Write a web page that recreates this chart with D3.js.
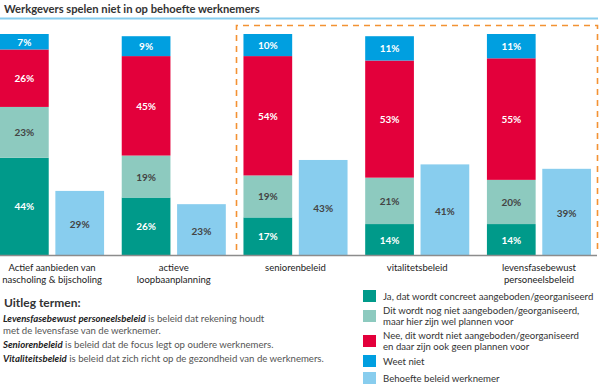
<!DOCTYPE html>
<html>
<head>
<meta charset="UTF-8">
<style>
body { margin: 0; padding: 0; background: #fff; }
svg { display: block; font-family: Lato, "Open Sans", sans-serif; }
</style>
</head>
<body>
<svg id="chart" width="600" height="385"></svg>
<script src="https://d3js.org/d3.v7.min.js"></script>
<script>

const categories = [
  ["Actief aanbieden van", "nascholing & bijscholing"],
  ["actieve", "loopbaanplanning"],
  ["seniorenbeleid"],
  ["vitalitetsbeleid"],
  ["levensfasebewust", "personeelsbeleid"]
];
const ja = [44, 26, 17, 14, 14];
const plannen = [23, 19, 19, 21, 20];
const nee = [26, 45, 54, 53, 55];
const weetNiet = [7, 9, 10, 11, 11];
const behoefte = [29, 23, 43, 41, 39];

const seriesNames = [
  ["Ja, dat wordt concreet aangeboden/georganiseerd"],
  ["Dit wordt nog niet aangeboden/georganiseerd,", "maar hier zijn wel plannen voor"],
  ["Nee, dit wordt niet aangeboden/georganiseerd", "en daar zijn ook geen plannen voor"],
  ["Weet niet"],
  ["Behoefte beleid werknemer"]
];
const colors = ["#009a8a", "#8dcabf", "#e3003b", "#009fe0", "#88cdee"];
const labelColors = ["#fff", "#444", "#fff", "#fff", "#444"];

const title = "Werkgevers spelen niet in op behoefte werknemers";
const uitlegTitle = "Uitleg termen:";
const uitleg = [
  [["Levensfasebewust personeelsbeleid", true], [" is beleid dat rekening houdt", false]],
  [["met de levensfase van de werknemer.", false]],
  [["Seniorenbeleid", true], [" is beleid dat de focus legt op oudere werknemers.", false]],
  [["Vitaliteitsbeleid", true], [" is beleid dat zich richt op de gezondheid van de werknemers.", false]]
];

const svg = d3.select("#chart");

// title + blue rule
svg.append("text")
  .attr("x", 4).attr("y", 13)
  .attr("font-size", "11.2px").attr("font-weight", "bold")
  .attr("fill", "#333")
  .text(title);
svg.append("line")
  .attr("x1", 0).attr("x2", 598).attr("y1", 18.5).attr("y2", 18.5)
  .attr("stroke", "#88cdee").attr("stroke-width", 2);

const baseY = 255, topY = 34;
const y = d3.scaleLinear().domain([0, 100]).range([baseY, topY]);
const x = d3.scaleBand().domain(d3.range(categories.length)).range([0, 591]).paddingInner(0.145);
const xi = d3.scaleBand().domain(["stack", "behoefte"]).range([0, x.bandwidth()]).paddingInner(0.12);

// stacked data
const rows = categories.map((c, i) => ({ i, ja: ja[i], plannen: plannen[i], nee: nee[i], weetNiet: weetNiet[i] }));
const keys = ["ja", "plannen", "nee", "weetNiet"];
const stacked = d3.stack().keys(keys)(rows);

const segs = [];
stacked.forEach((layer, k) => {
  layer.forEach(d => {
    segs.push({ k, i: d.data.i, y0: d[0], y1: d[1], v: d[1] - d[0] });
  });
});

// dashed box round the last three groups
const bx0 = 236.5, bx1 = 597.5, by0 = 25.5, by1 = 250;
svg.append("path")
  .attr("d", `M${bx0},${by1} L${bx0},${by0} L${bx1},${by0} L${bx1},${by1}`)
  .attr("fill", "none").attr("stroke", "#f39233").attr("stroke-width", 1.6)
  .attr("stroke-dasharray", "6,5");

const g = svg.append("g");
g.selectAll("rect.seg").data(segs).enter().append("rect")
  .attr("class", "seg")
  .attr("x", d => x(d.i) + xi("stack"))
  .attr("width", xi.bandwidth())
  .attr("y", d => y(d.y1))
  .attr("height", d => y(d.y0) - y(d.y1))
  .attr("fill", d => colors[d.k]);

g.selectAll("rect.beh").data(behoefte).enter().append("rect")
  .attr("class", "beh")
  .attr("x", (d, i) => x(i) + xi("behoefte"))
  .attr("width", xi.bandwidth())
  .attr("y", d => y(d))
  .attr("height", d => baseY - y(d))
  .attr("fill", colors[4]);

// value labels
g.selectAll("text.seg").data(segs).enter().append("text")
  .attr("class", "seg")
  .attr("x", d => x(d.i) + xi("stack") + xi.bandwidth() / 2)
  .attr("y", d => (y(d.y0) + y(d.y1)) / 2 + 4)
  .attr("text-anchor", "middle")
  .attr("font-size", "10px").attr("font-weight", "bold")
  .attr("fill", d => labelColors[d.k])
  .text(d => d.v + "%");

g.selectAll("text.beh").data(behoefte).enter().append("text")
  .attr("class", "beh")
  .attr("x", (d, i) => x(i) + xi("behoefte") + xi.bandwidth() / 2)
  .attr("y", d => (y(d) + baseY) / 2 + 5)
  .attr("text-anchor", "middle")
  .attr("font-size", "10px").attr("font-weight", "bold")
  .attr("fill", labelColors[4])
  .text(d => d + "%");

// axis line
svg.append("line")
  .attr("x1", 0).attr("x2", 597).attr("y1", baseY + 0.5).attr("y2", baseY + 0.5)
  .attr("stroke", "#8c8c8c").attr("stroke-width", 1.5);

// category labels
categories.forEach((lines, i) => {
  const t = svg.append("text")
    .attr("x", x(i) + x.bandwidth() / 2)
    .attr("y", 271)
    .attr("text-anchor", "middle")
    .attr("font-size", "9.5px")
    .attr("fill", "#222");
  lines.forEach((l, j) => {
    t.append("tspan").attr("x", x(i) + x.bandwidth() / 2).attr("dy", j ? 12 : 0).text(l);
  });
});

// uitleg
svg.append("text")
  .attr("x", 4).attr("y", 307)
  .attr("font-size", "12px").attr("font-weight", "bold")
  .attr("fill", "#333")
  .text(uitlegTitle);

const uitlegY = [322, 334, 348, 362];
uitleg.forEach((parts, r) => {
  const t = svg.append("text")
    .attr("x", 3).attr("y", uitlegY[r])
    .attr("font-size", "9.6px").attr("fill", "#555");
  parts.forEach(p => {
    const s = t.append("tspan").text(p[0]);
    if (p[1]) s.attr("font-weight", "bold").attr("font-style", "italic").attr("fill", "#222");
  });
});

// legend
const legY = [290, 310, 335, 355, 372];
seriesNames.forEach((lines, k) => {
  svg.append("rect")
    .attr("x", 363).attr("y", legY[k])
    .attr("width", 13).attr("height", 12)
    .attr("fill", colors[k]);
  const t = svg.append("text")
    .attr("x", 383)
    .attr("y", lines.length > 1 ? legY[k] + 4 : legY[k] + 10)
    .attr("font-size", "9.6px").attr("fill", "#333");
  lines.forEach((l, j) => {
    t.append("tspan").attr("x", 383).attr("dy", j ? 10.5 : 0).text(l);
  });
});

</script>
</body>
</html>
